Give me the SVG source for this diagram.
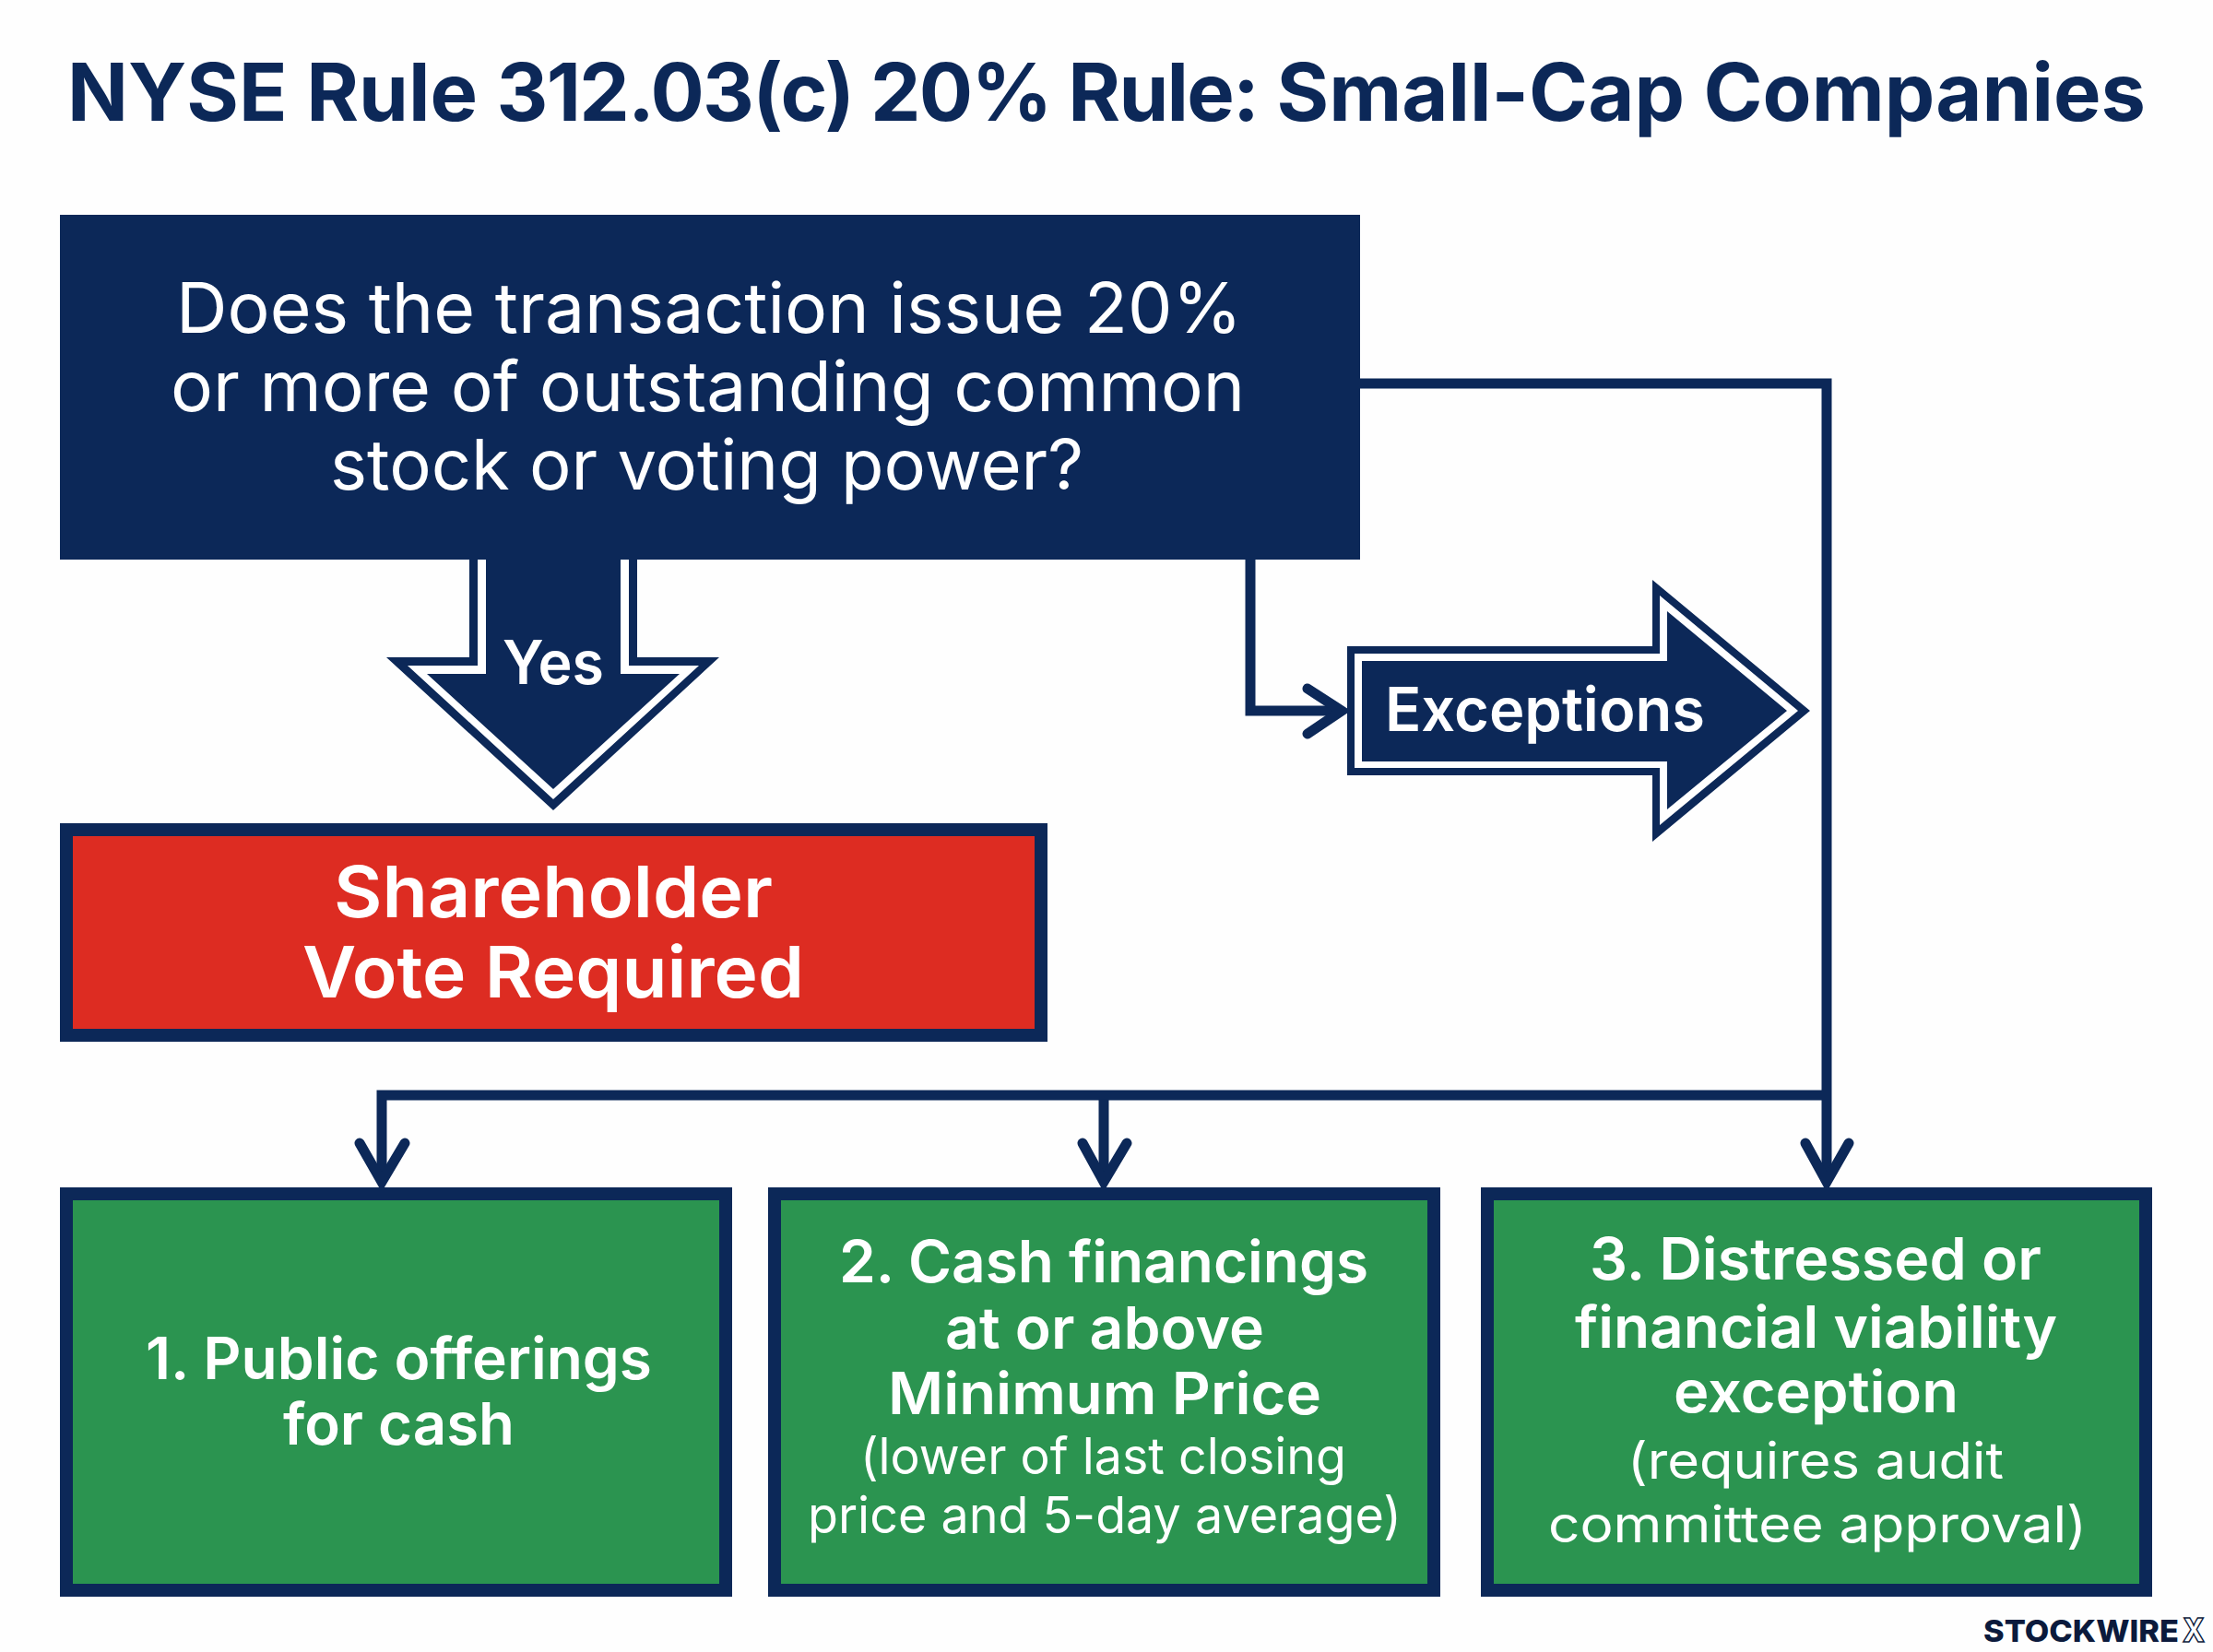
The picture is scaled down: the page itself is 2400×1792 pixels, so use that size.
<svg xmlns="http://www.w3.org/2000/svg" width="2400" height="1792" viewBox="0 0 2400 1792">
<style>
text{font-family:"Inter","Liberation Sans",sans-serif;text-anchor:start}
.title{font-size:86px;font-weight:700;fill:#0c2858}
.tight{letter-spacing:-1.8px}
.q{font-size:76px;font-weight:400;fill:#fff}
.h{font-size:77px;font-weight:600;fill:#fff}
.lab{font-size:66px;font-weight:600;fill:#fff}
.g{font-size:63px;font-weight:600;fill:#fff}
.s{font-size:55px;font-weight:400;fill:#fff}
.navy{fill:#0c2858}
.white{fill:#fff}
.box{stroke:#0c2858;stroke-width:14}
.green{fill:#2b9450}
.red{fill:#dd2c22}
.line{fill:none;stroke:#0c2858;stroke-width:11;stroke-linejoin:miter}
.barb{fill:none;stroke:#0c2858;stroke-width:11;stroke-linecap:round;stroke-linejoin:miter;stroke-miterlimit:10}
.brand{font-size:33px;font-weight:800;fill:#0b1a3c}
.brandx{font-size:36px;font-weight:800;fill:#fff;stroke:#0b1a3c;stroke-width:1.5}
</style>
<rect width="2400" height="1792" fill="#fefefe"/>
<text class="title" x="73" y="131" textLength="2254" lengthAdjust="spacingAndGlyphs">NYSE Rule <tspan class="tight">312.03(c) 20% Rule:</tspan> Small-Cap Companies</text>
<g id="connectors">
<path class="line" d="M1475 416H1981V1278"/>
<path class="line" d="M1981 1188H414V1278"/>
<path class="line" d="M1197 1188V1278"/>
<path class="line" d="M1356 607V771H1452"/>
<path class="barb" d="M390 1240L414 1282L439 1240"/>
<path class="barb" d="M1174 1240L1197 1282L1222 1240"/>
<path class="barb" d="M1958 1240L1981 1282L2005 1240"/>
<path class="barb" d="M1418 747L1455 771L1418 796"/>
</g>
<g id="node-question">
<rect class="navy" x="65" y="233" width="1410" height="374"/>
<text class="q" x="191" y="361" textLength="1156" lengthAdjust="spacingAndGlyphs">Does the transaction issue 20%</text>
<text class="q" x="185" y="446" textLength="1165" lengthAdjust="spacingAndGlyphs">or more of outstanding common</text>
<text class="q" x="358" y="531" textLength="817" lengthAdjust="spacingAndGlyphs">stock or voting power?</text>
</g>
<g id="node-yes">
<polygon class="navy" points="509,607 691,607 691,713 780,713 600,879 419,713 509,713"/>
<polygon class="white" points="518,607 682,607 682,722 758,722 600,867 442,722 518,722"/>
<polygon class="navy" points="527,607 673,607 673,731 737,731 600,856 463,731 527,731"/>
<text class="lab" x="545" y="742" textLength="110" lengthAdjust="spacingAndGlyphs">Yes</text>
</g>
<g id="node-exceptions">
<polygon class="navy" points="1461,701 1792,701 1792,629 1963,771 1792,913 1792,841 1461,841"/>
<polygon class="white" points="1469,709 1800,709 1800,646 1950,771 1800,895 1800,833 1469,833"/>
<polygon class="navy" points="1477,717 1808,717 1808,663 1938,771 1808,878 1808,826 1477,826"/>
<text class="lab" x="1502" y="793" textLength="347" lengthAdjust="spacingAndGlyphs">Exceptions</text>
</g>
<g id="node-vote">
<rect class="red box" x="72" y="900" width="1057" height="223"/>
<text class="h" x="362" y="995" textLength="476" lengthAdjust="spacingAndGlyphs">Shareholder</text>
<text class="h" x="328" y="1082" textLength="544" lengthAdjust="spacingAndGlyphs">Vote Required</text>
</g>
<g id="node-exception-1">
<rect class="green box" x="72" y="1295" width="715" height="430"/>
<text class="g" x="158" y="1496" textLength="549" lengthAdjust="spacingAndGlyphs">1. Public offerings</text>
<text class="g" x="307" y="1567" textLength="251" lengthAdjust="spacingAndGlyphs">for cash</text>
</g>
<g id="node-exception-2">
<rect class="green box" x="840" y="1295" width="715" height="430"/>
<text class="g" x="910" y="1391" textLength="574" lengthAdjust="spacingAndGlyphs">2. Cash financings</text>
<text class="g" x="1025" y="1463" textLength="346" lengthAdjust="spacingAndGlyphs">at or above</text>
<text class="g" x="963" y="1534" textLength="470" lengthAdjust="spacingAndGlyphs">Minimum Price</text>
<text class="s" x="933" y="1599" textLength="527" lengthAdjust="spacingAndGlyphs">(lower of last closing</text>
<text class="s" x="876" y="1663" textLength="644" lengthAdjust="spacingAndGlyphs">price and 5-day average)</text>
</g>
<g id="node-exception-3">
<rect class="green box" x="1613" y="1295" width="714" height="430"/>
<text class="g" x="1724" y="1388" textLength="490" lengthAdjust="spacingAndGlyphs">3. Distressed or</text>
<text class="g" x="1708" y="1462" textLength="523" lengthAdjust="spacingAndGlyphs">financial viability</text>
<text class="g" x="1815" y="1532" textLength="309" lengthAdjust="spacingAndGlyphs">exception</text>
<text class="s" x="1765" y="1604" textLength="408" lengthAdjust="spacingAndGlyphs">(requires audit</text>
<text class="s" x="1679" y="1673" textLength="584" lengthAdjust="spacingAndGlyphs">committee approval)</text>
</g>
<g id="brand">
<text class="brand" x="2151" y="1781" textLength="212" lengthAdjust="spacingAndGlyphs">STOCKWIRE</text>
<text class="brandx" x="2367" y="1781" textLength="24" lengthAdjust="spacingAndGlyphs">X</text>
</g>
</svg>
